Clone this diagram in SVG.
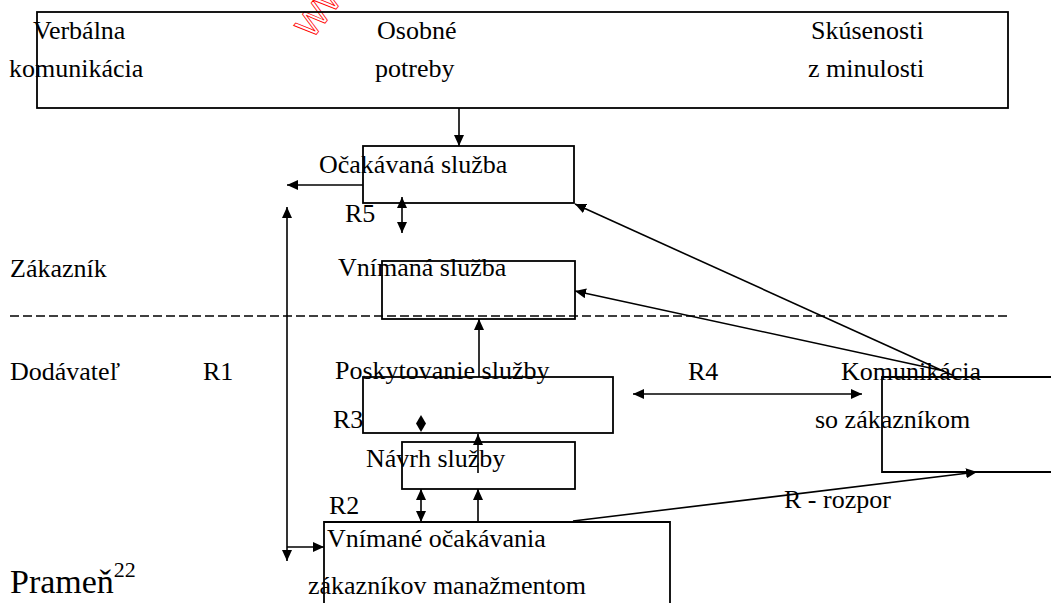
<svg xmlns="http://www.w3.org/2000/svg" width="1051" height="603" viewBox="0 0 1051 603">
<style>
text{font-family:"Liberation Serif","Times New Roman",serif;font-size:26px;fill:#000}
.box{fill:none;stroke:#000;stroke-width:1.8}
.ln{fill:none;stroke:#000;stroke-width:1.6}
.dash{fill:none;stroke:#000;stroke-width:1.6;stroke-dasharray:9 4}
.wm{font-family:"Liberation Sans",Arial,sans-serif;font-size:34px;fill:none;stroke:#f00;stroke-width:0.8}
</style>
<defs>
<marker id="ah" markerUnits="userSpaceOnUse" markerWidth="12" markerHeight="10" refX="11" refY="5" orient="auto-start-reverse">
<path d="M0,0 L11,5 L0,10 Z" fill="#000"/>
</marker>
</defs>
<rect width="1051" height="603" fill="#fff"/>
<text class="wm" transform="translate(312,40) rotate(-52)">WW</text>

<g id="top-box">
<rect class="box" x="37" y="12" width="971" height="96"/>
<text x="33" y="39">Verbálna</text>
<text x="9" y="77">komunikácia</text>
<text x="377" y="39">Osobné</text>
<text x="375" y="77">potreby</text>
<text x="811" y="39">Skúsenosti</text>
<text x="808" y="77">z minulosti</text>
</g>

<g id="ocakavana">
<rect class="box" x="363" y="146" width="211" height="57"/>
<text x="319" y="173">Očakávaná služba</text>
</g>

<g id="vnimana">
<rect class="box" x="382" y="261" width="193" height="58"/>
<text x="338" y="276">Vnímaná služba</text>
</g>

<g id="poskytovanie">
<rect class="box" x="363" y="377" width="250" height="56"/>
<text x="335" y="379">Poskytovanie služby</text>
</g>

<g id="navrh">
<rect class="box" x="402" y="442" width="173" height="47"/>
<text x="366" y="467">Návrh služby</text>
</g>

<g id="vnimane-ocakavania">
<path class="box" d="M324,610 L324,522 L670,522 L670,610"/>
<text x="327" y="547">Vnímané očakávania</text>
<text x="308" y="594">zákazníkov manažmentom</text>
</g>

<g id="komunikacia">
<path class="box" d="M1060,377 L882,377 L882,472 L1060,472"/>
<text x="841" y="380">Komunikácia</text>
<text x="815" y="428">so zákazníkom</text>
</g>

<g id="labels">
<text x="10" y="277">Zákazník</text>
<text x="10" y="380">Dodávateľ</text>
<text x="203" y="380">R1</text>
<text x="345" y="222">R5</text>
<text x="333" y="428">R3</text>
<text x="329" y="514">R2</text>
<text x="688" y="380">R4</text>
<text x="784" y="508">R - rozpor</text>
<text x="10" y="593" style="font-size:34px">Prameň<tspan dy="-16" style="font-size:22px">22</tspan></text>
</g>

<g id="connectors">
<line class="dash" x1="10" y1="316" x2="1011" y2="316"/>
<line class="ln" x1="459" y1="108" x2="459" y2="146" marker-end="url(#ah)"/>
<line class="ln" x1="363" y1="185" x2="287" y2="185" marker-end="url(#ah)"/>
<line class="ln" x1="402" y1="197" x2="402" y2="233" marker-start="url(#ah)" marker-end="url(#ah)"/>
<line class="ln" x1="287" y1="207" x2="287" y2="561" marker-start="url(#ah)" marker-end="url(#ah)"/>
<line class="ln" x1="287" y1="547" x2="324" y2="547" marker-end="url(#ah)"/>
<line class="ln" x1="479" y1="377" x2="479" y2="319" marker-end="url(#ah)"/>
<polygon points="421,415 426,423.5 421,432 416,423.5" fill="#000"/>
<line class="ln" x1="478" y1="473" x2="478" y2="434" marker-end="url(#ah)"/>
<line class="ln" x1="421" y1="489" x2="421" y2="522" marker-start="url(#ah)" marker-end="url(#ah)"/>
<line class="ln" x1="478" y1="522" x2="478" y2="489" marker-end="url(#ah)"/>
<line class="ln" x1="633" y1="394" x2="862" y2="394" marker-start="url(#ah)" marker-end="url(#ah)"/>
<line class="ln" x1="952" y1="375" x2="575" y2="204" marker-end="url(#ah)"/>
<line class="ln" x1="944" y1="371" x2="575" y2="291" marker-end="url(#ah)"/>
<line class="ln" x1="573" y1="521" x2="977" y2="472" marker-end="url(#ah)"/>
</g>
</svg>
